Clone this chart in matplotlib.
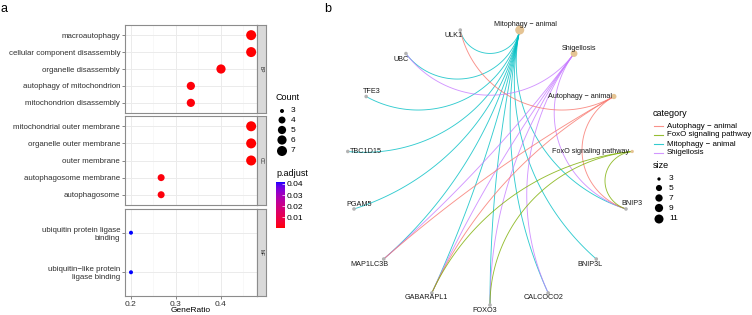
import numpy as np
import matplotlib
matplotlib.use('Agg')
import matplotlib.pyplot as plt
from matplotlib.colors import ListedColormap, Normalize
from matplotlib.colorbar import ColorbarBase
from matplotlib.patches import Rectangle
from matplotlib.lines import Line2D

plt.rcParams['font.family'] = ['Liberation Sans', 'DejaVu Sans']

# ---------------- data: panel a (enrichment dot plot) ----------------
ontologies = ['BP', 'CC', 'MF']
bp_terms = ['macroautophagy', 'cellular component disassembly', 'organelle disassembly',
            'autophagy of mitochondrion', 'mitochondrion disassembly']
bp_ratio = [0.467, 0.467, 0.400, 0.333, 0.333]
bp_count = [7, 7, 6, 5, 5]
bp_padj = [0.0004, 0.0005, 0.0008, 0.0010, 0.0010]
cc_terms = ['mitochondrial outer membrane', 'organelle outer membrane', 'outer membrane',
            'autophagosome membrane', 'autophagosome']
cc_ratio = [0.467, 0.467, 0.467, 0.267, 0.267]
cc_count = [7, 7, 7, 4, 4]
cc_padj = [0.0003, 0.0003, 0.0003, 0.0012, 0.0012]
mf_terms = ['ubiquitin protein ligase\nbinding', 'ubiquitin\u2212like protein\nligase binding']
mf_ratio = [0.200, 0.200]
mf_count = [3, 3]
mf_padj = [0.0418, 0.0418]
ratio_ticks = [0.2, 0.3, 0.4]
count_breaks = [3, 4, 5, 6, 7]
padj_breaks = [0.01, 0.02, 0.03, 0.04]

# ---------------- data: panel b (gene-concept network) ----------------
categories = ['Mitophagy \u2212 animal', 'Shigellosis', 'Autophagy \u2212 animal', 'FoxO signaling pathway']
genes = ['BNIP3', 'BNIP3L', 'CALCOCO2', 'FOXO3', 'GABARAPL1', 'MAP1LC3B',
         'PGAM5', 'TBC1D15', 'TFE3', 'UBC', 'ULK1']
genes_mitophagy = ['BNIP3', 'BNIP3L', 'CALCOCO2', 'FOXO3', 'GABARAPL1', 'MAP1LC3B',
                   'PGAM5', 'TBC1D15', 'TFE3', 'UBC', 'ULK1']
genes_shigellosis = ['UBC', 'MAP1LC3B', 'GABARAPL1', 'FOXO3', 'CALCOCO2', 'BNIP3']
genes_autophagy = ['ULK1', 'MAP1LC3B', 'GABARAPL1', 'BNIP3']
genes_foxo = ['GABARAPL1', 'FOXO3', 'BNIP3']
legend_categories = ['Autophagy \u2212 animal', 'FoxO signaling pathway',
                     'Mitophagy \u2212 animal', 'Shigellosis']
size_breaks = [3, 5, 7, 9, 11]

# ---------------- styling ----------------
W, H = 752, 315
fig = plt.figure(figsize=(W / 100, H / 100), dpi=100)
PT = 0.72  # points per pixel at 100 dpi


def rect(x0, y0, x1, y1):
    return [x0 / W, 1 - y1 / H, (x1 - x0) / W, (y1 - y0) / H]


def lab_cmap(c0, c1, n=256):
    def srgb2lin(c):
        c = np.asarray(c, float)
        return np.where(c <= 0.04045, c / 12.92, ((c + 0.055) / 1.055) ** 2.4)

    def lin2srgb(c):
        c = np.clip(c, 0, 1)
        return np.where(c <= 0.0031308, 12.92 * c, 1.055 * c ** (1 / 2.4) - 0.055)

    M = np.array([[0.4124, 0.3576, 0.1805], [0.2126, 0.7152, 0.0722], [0.0193, 0.1192, 0.9505]])
    Mi = np.linalg.inv(M)
    wp = np.array([0.95047, 1.0, 1.08883])

    def f(t):
        return np.where(t > (6 / 29) ** 3, np.cbrt(t), t / (3 * (6 / 29) ** 2) + 4 / 29)

    def finv(t):
        return np.where(t > 6 / 29, t ** 3, 3 * (6 / 29) ** 2 * (t - 4 / 29))

    def tolab(c):
        xyz = M @ srgb2lin(c) / wp
        fx, fy, fz = f(xyz)
        return np.array([116 * fy - 16, 500 * (fx - fy), 200 * (fy - fz)])

    def fromlab(lab):
        L, a, b = lab
        fy = (L + 16) / 116
        xyz = np.array([finv(fy + a / 500), finv(fy), finv(fy - b / 200)]) * wp
        return lin2srgb(Mi @ xyz)

    l0, l1 = tolab(c0), tolab(c1)
    cols = [fromlab(l0 + (l1 - l0) * t) for t in np.linspace(0, 1, n)]
    return ListedColormap(cols)


cmap = lab_cmap([1, 0, 0], [0, 0, 1])
all_padj = bp_padj + cc_padj + mf_padj
norm = Normalize(vmin=min(all_padj), vmax=max(all_padj))
cmin, cmax = min(count_breaks), max(count_breaks)


def count_px(c):
    return 4.0 + 6.0 * np.sqrt((np.asarray(c, float) - cmin) / (cmax - cmin))


TXT = '#303030'
GRID = '#EBEBEB'
BORDER = '#8C8C8C'

panels = [
    (ontologies[0], bp_terms, bp_ratio, bp_count, bp_padj, (25, 113)),
    (ontologies[1], cc_terms, cc_ratio, cc_count, cc_padj, (116, 205)),
    (ontologies[2], mf_terms, mf_ratio, mf_count, mf_padj, (209, 296)),
]
XL, XR, SR = 125, 257, 266
for k, (ont, terms, ratio, count, padj, (yt, yb)) in enumerate(panels):
    ax = fig.add_axes(rect(XL, yt, XR, yb))
    n = len(terms)
    ypos = np.arange(n)
    ax.set_xlim(0.1867, 0.48)
    ax.set_ylim(n - 1 + 0.6, -0.6)
    ax.set_xticks(ratio_ticks)
    ax.set_xticks([0.25, 0.35, 0.45], minor=True)
    ax.set_yticks(ypos)
    ax.set_yticklabels(terms, fontsize=5.7, color=TXT, ha='right', multialignment='right')
    ax.grid(True, which='major', color=GRID, lw=0.7, zorder=0)
    ax.grid(True, which='minor', axis='x', color='#F4F4F4', lw=0.4, zorder=0)
    ax.set_axisbelow(True)
    for s in ax.spines.values():
        s.set_color(BORDER)
        s.set_linewidth(0.8)
    ax.tick_params(axis='both', which='both', length=2, width=0.5, color='#555555', pad=1.5)
    ax.tick_params(axis='x', which='minor', length=0)
    if k < 2:
        ax.tick_params(axis='x', labelbottom=False, length=0)
    else:
        ax.set_xticklabels([f'{t:.1f}' for t in ratio_ticks], fontsize=6, color=TXT)
    sizes = (count_px(count) * PT) ** 2
    ax.scatter(ratio, ypos, s=sizes, c=padj, cmap=cmap, norm=norm, edgecolors='none', zorder=3)
    # facet strip
    sax = fig.add_axes(rect(XR, yt, SR, yb))
    sax.set_xticks([]); sax.set_yticks([])
    sax.set_facecolor('#D9D9D9')
    for s in sax.spines.values():
        s.set_color(BORDER)
        s.set_linewidth(0.8)
    sax.text(0.5, 0.5, ont, rotation=-90, ha='center', va='center', fontsize=3.5,
             color='#1A1A1A', transform=sax.transAxes)

# ---------------- panel b network ----------------
nodes = categories + genes
N = len(nodes)
ang = np.pi / 2 - np.pi / N - 2 * np.pi * np.arange(N) / N
pos = {nm: (np.cos(a), np.sin(a)) for nm, a in zip(nodes, ang)}
angle = {nm: a for nm, a in zip(nodes, ang)}

CX, CY, RX, RY = 490, 166, 143, 139
bx0, bx1 = 330, 650
ax2 = fig.add_axes(rect(bx0, 0, bx1, H))
ax2.set_xlim((bx0 - CX) / RX, (bx1 - CX) / RX)
ax2.set_ylim((CY - H) / RY, CY / RY)
ax2.axis('off')

pal = {'Autophagy \u2212 animal': '#F8766D', 'FoxO signaling pathway': '#7CAE00',
       'Mitophagy \u2212 animal': '#00BFC4', 'Shigellosis': '#C77CFF'}
edge_sets = {categories[0]: genes_mitophagy, categories[1]: genes_shigellosis,
             categories[2]: genes_autophagy, categories[3]: genes_foxo}


def arc_points(a, b, npts=120):
    d = (b - a + np.pi) % (2 * np.pi) - np.pi  # signed short difference
    alpha = abs(d)
    P = np.array([np.cos(a), np.sin(a)])
    Q = np.array([np.cos(b), np.sin(b)])
    if alpha > np.pi - 0.02:
        t = np.linspace(0, 1, npts)
        return P[0] + (Q[0] - P[0]) * t, P[1] + (Q[1] - P[1]) * t
    m = a + d / 2
    C = np.array([np.cos(m), np.sin(m)]) / np.cos(alpha / 2)
    r = np.tan(alpha / 2)
    p0 = np.arctan2(*(P - C)[::-1])
    p1 = np.arctan2(*(Q - C)[::-1])
    dd = (p1 - p0 + np.pi) % (2 * np.pi) - np.pi
    ph = p0 + dd * np.linspace(0, 1, npts)
    return C[0] + r * np.cos(ph), C[1] + r * np.sin(ph)


for cat in categories:
    for g in edge_sets[cat]:
        xs, ys = arc_points(angle[cat], angle[g])
        ax2.plot(xs, ys, color=pal[cat], lw=0.65, alpha=0.8, zorder=1,
                 solid_capstyle='round')

smin, smax = min(size_breaks), max(size_breaks)


def node_px(s):
    return 3.3 + 5.7 * np.sqrt((np.asarray(s, float) - smin) / (smax - smin))


for cat in categories:
    x, y = pos[cat]
    ax2.scatter([x], [y], s=(node_px(len(edge_sets[cat])) * PT) ** 2, color='#E5C494',
                edgecolors='none', zorder=3)
for g in genes:
    x, y = pos[g]
    ax2.scatter([x], [y], s=(3.6 * PT) ** 2, color='#B3B3B3', edgecolors='none', zorder=3)

label_off = {
    'Mitophagy \u2212 animal': (6, -6, 'center'), 'Shigellosis': (5, -5, 'center'),
    'Autophagy \u2212 animal': (-2, 0, 'right'), 'FoxO signaling pathway': (-3, 0, 'right'),
    'ULK1': (-7, 5, 'center'), 'UBC': (-5, 6, 'center'), 'TFE3': (6, -5, 'center'),
    'TBC1D15': (2, 0, 'left'), 'PGAM5': (5, -4, 'center'), 'MAP1LC3B': (-14, 5, 'center'),
    'GABARAPL1': (-6, 5, 'center'), 'FOXO3': (-5, 5, 'center'), 'CALCOCO2': (-5, 5, 'center'),
    'BNIP3L': (-6, 5, 'center'), 'BNIP3': (6, -5, 'center'),
}
for nm in nodes:
    dx, dy, ha = label_off[nm]
    ax2.annotate(nm, pos[nm], xytext=(dx * PT, -dy * PT), textcoords='offset points',
                 ha=ha, va='center', fontsize=5.2, color='#1A1A1A', zorder=4)

# ---------------- overlay: legends, panel letters, axis title ----------------
ov = fig.add_axes([0, 0, 1, 1], zorder=10)
ov.set_xlim(0, W)
ov.set_ylim(H, 0)
ov.axis('off')
ov.patch.set_alpha(0)

ov.text(4, 9, 'a', fontsize=9, ha='center', va='center', color='black')
ov.text(328, 9, 'b', fontsize=9, ha='center', va='center', color='black')
ov.text(191, 311, 'GeneRatio', fontsize=6, ha='center', va='center', color='black')

# Count legend
ov.text(276, 98, 'Count', fontsize=6.5, ha='left', va='center', color='black')
cy = [111, 120, 130, 140, 151]
for c, y in zip(count_breaks, cy):
    ov.scatter([282], [y], s=(count_px(c) * PT) ** 2, color='black', edgecolors='none')
    ov.text(291, y, str(c), fontsize=6, ha='left', va='center', color='black')

# p.adjust colorbar
ov.text(276, 174, 'p.adjust', fontsize=6.5, ha='left', va='center', color='black')
cax = fig.add_axes(rect(276, 182, 285, 228))
cb = ColorbarBase(cax, cmap=cmap, norm=norm, orientation='vertical')
cb.outline.set_visible(False)
cb.set_ticks(padj_breaks)
cb.set_ticklabels([f'{v:.2f}' for v in padj_breaks])
cax.tick_params(labelsize=6, length=2, width=0.5, color='white', pad=1.5, direction='in')

# category legend
ov.text(653, 113, 'category', fontsize=6.5, ha='left', va='center', color='black')
for cat, y in zip(legend_categories, [126, 135, 144, 153]):
    ov.add_line(Line2D([654, 663], [y, y], color=pal[cat], lw=0.8, alpha=0.8))
    ov.text(667, y, cat, fontsize=5.7, ha='left', va='center', color='black')

# size legend
ov.text(653, 166, 'size', fontsize=6.5, ha='left', va='center', color='black')
for s, y in zip(size_breaks, [179, 188, 198, 208, 219]):
    ov.scatter([659], [y], s=(node_px(s) * PT) ** 2, color='black', edgecolors='none')
    ov.text(669, y, str(s), fontsize=6, ha='left', va='center', color='black')

fig.savefig('out.png', dpi=100)
